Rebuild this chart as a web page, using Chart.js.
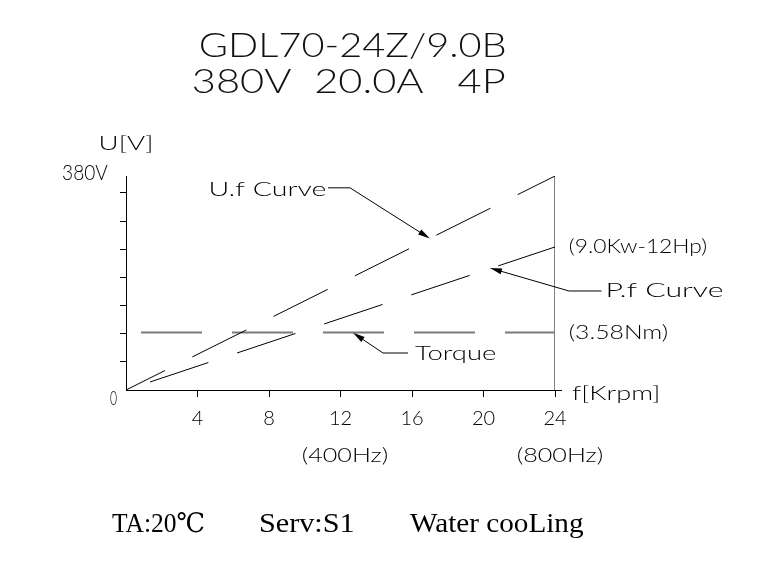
<!DOCTYPE html>
<html><head><meta charset="utf-8">
<script src="https://cdn.jsdelivr.net/npm/chart.js@4.4.1/dist/chart.umd.min.js"></script>
<style>html,body{margin:0;padding:0;background:#fff;overflow:hidden}canvas{display:block}</style>
</head><body>
<canvas id="c" width="766" height="571"></canvas>
<script>
// ---- data ----
const freqKrpm = [0, 24];            // f [Krpm]
const ufVoltage = [0, 380];          // U.f curve (V)
const pfCurve = [0, 254];            // P.f curve (same V scale)
const torqueLevel = [102, 102];      // torque line (3.58Nm)
const frameX = [24, 24];
const frameY = [0, 380];
const xTickStep = 4;
const yTickStep = 50;
const titleLines = ["GDL70-24Z/9.0B", "380V  20.0A   4P"];
const footerParts = ["TA:20\u2103", "Serv:S1", "Water cooLing"];

const SANS = 'Lato, Roboto, "DejaVu Sans", sans-serif';
const SERIF = '"Liberation Serif", "DejaVu Serif", serif';

function pts(xs, ys){ return xs.map((x,i)=>({x:x, y:ys[i]})); }

function fitText(ctx, str, x1, x2, baseline, size, family, weight, color){
  ctx.save();
  ctx.font = `${weight} ${size}px ${family}`;
  ctx.textAlign = 'left';
  ctx.textBaseline = 'alphabetic';
  ctx.fillStyle = color || '#000';
  const m = ctx.measureText(str);
  const ink = m.actualBoundingBoxLeft + m.actualBoundingBoxRight;
  const sx = (x2 - x1) / ink;
  ctx.translate(x1 + m.actualBoundingBoxLeft * sx, baseline);
  ctx.scale(sx, 1);
  ctx.fillText(str, 0, 0);
  ctx.restore();
}

function arrowTo(ctx, x1, y1, x2, y2){
  const a = Math.atan2(y2 - y1, x2 - x1);
  const L = 12, W = 3;
  ctx.beginPath();
  ctx.moveTo(x1, y1);
  ctx.lineTo(x2 - Math.cos(a)*L*0.8, y2 - Math.sin(a)*L*0.8);
  ctx.stroke();
  ctx.beginPath();
  ctx.moveTo(x2, y2);
  ctx.lineTo(x2 - Math.cos(a)*L - Math.sin(a)*W, y2 - Math.sin(a)*L + Math.cos(a)*W);
  ctx.lineTo(x2 - Math.cos(a)*L + Math.sin(a)*W, y2 - Math.sin(a)*L - Math.cos(a)*W);
  ctx.closePath();
  ctx.fill();
}

const decor = {
  id: 'decor',
  afterDraw(chart){
    const ctx = chart.ctx;
    const xs = chart.scales.x, ys = chart.scales.y;
    const px = v => xs.getPixelForValue(v);
    const py = v => ys.getPixelForValue(v);
    ctx.save();
    ctx.strokeStyle = '#000';
    ctx.fillStyle = '#000';
    ctx.lineWidth = 1;
    // x axis extension past 24
    ctx.beginPath();
    ctx.moveTo(px(24), py(0) + 0.5);
    ctx.lineTo(px(24) + 7, py(0) + 0.5);
    ctx.stroke();

    // callouts (data coordinates)
    ctx.beginPath();
    ctx.moveTo(px(11.3), py(359)); ctx.lineTo(px(12.53), py(359)); ctx.stroke();
    arrowTo(ctx, px(12.53), py(359), px(17.0), py(269));
    ctx.beginPath();
    ctx.moveTo(px(26.6), py(175.8)); ctx.lineTo(px(24.78), py(175.8)); ctx.stroke();
    arrowTo(ctx, px(24.78), py(175.8), px(20.36), py(216.6));
    ctx.beginPath();
    ctx.moveTo(px(15.78), py(65.7)); ctx.lineTo(px(14.38), py(65.7)); ctx.stroke();
    arrowTo(ctx, px(14.38), py(65.7), px(12.7), py(101.5));
    ctx.restore();

    // texts
    fitText(ctx, titleLines[0], 200, 505, 57, 34, SANS, 300, '#111');
    fitText(ctx, titleLines[1], 193, 505, 93, 34, SANS, 300, '#111');
    fitText(ctx, 'U[V]', 100, 151, 150, 19, SANS, 300);
    fitText(ctx, '380V', 63, 108, 180, 21, SANS, 300);
    fitText(ctx, '0', 110, 117, 405, 19, SANS, 300);
    fitText(ctx, 'U.f Curve', 210, 325, 196, 19, SANS, 300);
    fitText(ctx, '(9.0Kw-12Hp)', 570, 706, 253, 19, SANS, 300);
    fitText(ctx, 'P.f Curve', 607, 722, 297, 19, SANS, 300);
    fitText(ctx, '(3.58Nm)', 570, 667, 339, 19, SANS, 300);
    fitText(ctx, 'Torque', 415, 495, 360, 19, SANS, 300);
    fitText(ctx, 'f[Krpm]', 572, 658, 400, 19, SANS, 300);
    fitText(ctx, '(400Hz)', 303, 387, 462, 19, SANS, 300);
    fitText(ctx, '(800Hz)', 518, 602, 462, 19, SANS, 300);
    fitText(ctx, footerParts[0], 112, 204, 532, 27, SERIF, 400);
    fitText(ctx, footerParts[1], 260, 353, 532, 27, SERIF, 400);
    fitText(ctx, footerParts[2], 410, 583, 532, 27, SERIF, 400);
  }
};

const hideZero = c => (c.tick && c.tick.value === 0) ? 'rgba(0,0,0,0)' : '#000';

new Chart(document.getElementById('c'), {
  type: 'line',
  data: {
    datasets: [
      { label: 'U.f Curve', data: pts(freqKrpm, ufVoltage), borderColor: '#000', borderWidth: 1,
        borderDash: [60.4, 30.5], borderDashOffset: 16.8, pointRadius: 0 },
      { label: 'P.f Curve', data: pts(freqKrpm, pfCurve), borderColor: '#000', borderWidth: 1,
        borderDash: [61.5, 30.3], borderDashOffset: 66.5, pointRadius: 0 },
      { label: 'Torque', data: pts(freqKrpm, torqueLevel), borderColor: '#7a7a7a', borderWidth: 2,
        borderDash: [61, 30], borderDashOffset: 76, pointRadius: 0 },
      { label: 'frame', data: pts(frameX, frameY), borderColor: '#000', borderWidth: 1, pointRadius: 0 }
    ]
  },
  options: {
    responsive: false, animation: false, devicePixelRatio: 1,
    layout: { padding: { top: 176, right: 211, left: 0, bottom: 0 } },
    plugins: { legend: { display: false }, tooltip: { enabled: false }, title: { display: false } },
    scales: {
      x: {
        type: 'linear', min: 0, max: 24,
        afterFit: s => { s.height = 181; },
        ticks: { stepSize: xTickStep, autoSkip: false, maxRotation: 0, padding: 10, color: '#000',
          font: { family: SANS, size: 20, weight: 300 },
          callback: v => v === 0 ? '' : String(v) },
        grid: { drawOnChartArea: false, drawTicks: true, tickLength: 7, color: hideZero, lineWidth: 1 },
        border: { display: true, color: '#000', width: 1 }
      },
      y: {
        type: 'linear', min: 0, max: 380,
        afterFit: s => { s.width = 126; },
        ticks: { display: false, stepSize: yTickStep, includeBounds: false },
        grid: { drawOnChartArea: false, drawTicks: true, tickLength: 6, color: hideZero, lineWidth: 1 },
        border: { display: true, color: '#000', width: 1 }
      }
    }
  },
  plugins: [decor]
});
</script>
</body></html>
